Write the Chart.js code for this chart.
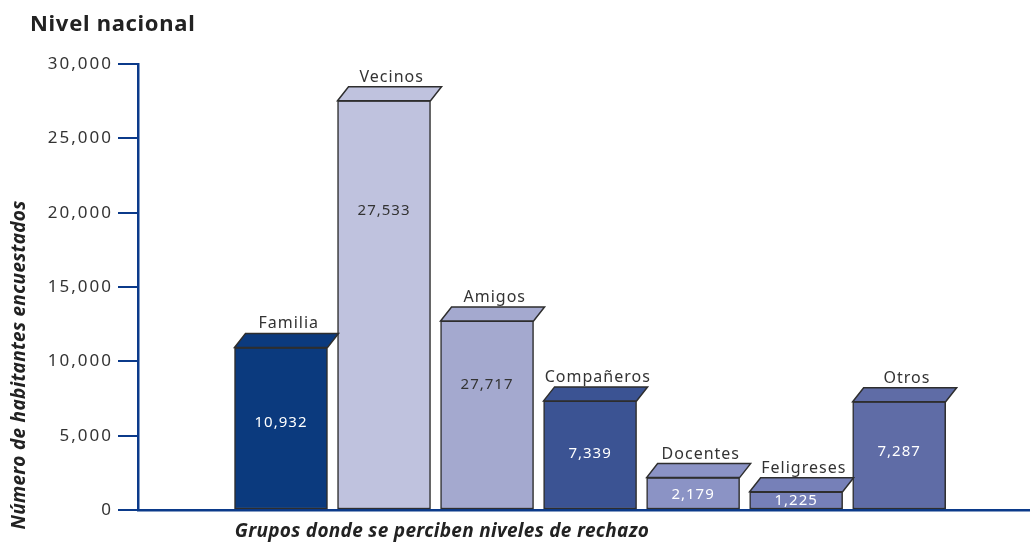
<!DOCTYPE html>
<html>
<head>
<meta charset="utf-8">
<script src="https://cdn.jsdelivr.net/npm/chart.js@4.4.1/dist/chart.umd.min.js"></script>
<style>
  html, body { margin: 0; padding: 0; background: #fff; }
  #wrap { width: 1030px; height: 543px; position: relative; }
</style>
</head>
<body>
<div id="wrap"><canvas id="barChart" width="1030" height="543"></canvas></div>
<script>
const categories = ['Familia', 'Vecinos', 'Amigos', 'Compañeros', 'Docentes', 'Feligreses', 'Otros']
const values = [10932, 27533, 12717, 7339, 2179, 1225, 7287]
const valueLabels = ['10,932', '27,533', '27,717', '7,339', '2,179', '1,225', '7,287']
const yTicks = [0, 5000, 10000, 15000, 20000, 25000, 30000]

const barColors = ['#0b3a7e', '#bfc2de', '#a4a9cf', '#3b5393', '#8b93c5', '#7680b8', '#5f6ca6']
const labelColors = ['#fff', '#333', '#333', '#fff', '#fff', '#fff', '#fff']
// where the value label sits, as a fraction of the bar height
const labelFrac = [0.54, 0.73, 0.66, 0.52, 0.47, 0.53, 0.54]

const navy = '#0b3a8a'
const ink = '#2e2e2e'
const fontName = "'Noto Sans', 'DejaVu Sans', sans-serif"

const decor = {
  id: 'decor',
  beforeDraw(chart) {
    chart.ctx.letterSpacing = '2px'
  },
  afterDatasetsDraw(chart) {
    const ctx = chart.ctx
    const meta = chart.getDatasetMeta(0)
    const yScale = chart.scales.y
    const dx = 11, dy = 14
    ctx.save()
    meta.data.forEach((bar, i) => {
      const half = bar.width / 2
      const left = bar.x - half, right = bar.x + half, top = bar.y
      // top face of the box
      ctx.beginPath()
      ctx.moveTo(left, top)
      ctx.lineTo(left + dx, top - dy)
      ctx.lineTo(right + dx, top - dy)
      ctx.lineTo(right, top)
      ctx.closePath()
      ctx.fillStyle = barColors[i]
      ctx.fill()
      ctx.lineWidth = 1.5
      ctx.strokeStyle = ink
      ctx.stroke()

      // category name above the box
      ctx.letterSpacing = '1px'
      ctx.font = '16px ' + fontName
      ctx.fillStyle = '#333'
      ctx.textAlign = 'center'
      ctx.textBaseline = 'alphabetic'
      ctx.fillText(categories[i], bar.x + dx * 0.7, top - dy - 5)

      // value inside the box
      const base = yScale.getPixelForValue(0)
      const ly = base - (base - top) * labelFrac[i]
      ctx.font = '15px ' + fontName
      ctx.fillStyle = labelColors[i]
      ctx.textBaseline = 'middle'
      ctx.fillText(valueLabels[i], bar.x, ly)
    })

    // title
    ctx.letterSpacing = '0.7px'
    ctx.textAlign = 'left'
    ctx.textBaseline = 'alphabetic'
    ctx.fillStyle = '#222'
    ctx.font = 'bold 22px ' + fontName
    ctx.fillText('Nivel nacional', 30, 31)

    // axis titles
    ctx.letterSpacing = '0.3px'
    ctx.font = 'italic bold 19px ' + fontName
    ctx.textAlign = 'center'
    ctx.fillText('Grupos donde se perciben niveles de rechazo', 442, 537)

    ctx.translate(20, 365)
    ctx.rotate(-Math.PI / 2)
    ctx.textBaseline = 'middle'
    ctx.fillText('Número de habitantes encuestados', 0, 0)
    ctx.restore()
  }
}

new Chart(document.getElementById('barChart').getContext('2d'), {
  type: 'bar',
  data: {
    datasets: [{
      data: values.map((v, i) => ({ x: i, y: v })),
      backgroundColor: barColors,
      borderColor: ink,
      borderWidth: 1.5,
      borderSkipped: false,
      barThickness: 93
    }]
  },
  options: {
    responsive: false,
    animation: false,
    layout: { padding: { top: 64, left: 0, right: 0, bottom: 0 } },
    plugins: {
      legend: { display: false },
      tooltip: { enabled: false }
    },
    scales: {
      x: {
        type: 'linear',
        offset: false,
        min: -1.388,
        max: 7.27,
        ticks: { display: false },
        grid: { display: false },
        border: { display: true, color: navy, width: 2.5 },
        afterFit(scale) { scale.height = 33 }
      },
      y: {
        min: 0,
        max: 30000,
        afterBuildTicks(scale) {
          scale.ticks = yTicks.map(v => ({ value: v }))
        },
        ticks: {
          padding: 5,
          color: '#333',
          font: { family: fontName, size: 17 },
          callback: v => v.toLocaleString('en-US')
        },
        grid: {
          drawOnChartArea: false,
          drawTicks: true,
          tickLength: 20,
          color: navy,
          lineWidth: 2
        },
        border: { display: true, color: navy, width: 2.5 },
        afterFit(scale) { scale.width = 138 }
      }
    }
  },
  plugins: [decor]
})
</script>
</body>
</html>
